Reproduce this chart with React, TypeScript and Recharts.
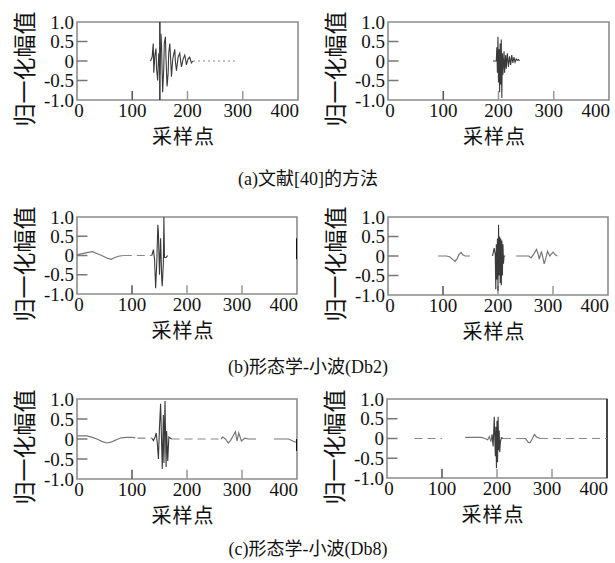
import React from "react";
import { LineChart, Line, XAxis, YAxis, ReferenceLine, ReferenceArea } from "recharts";

// sample axis and amplitude axis
const xTicks = [0, 100, 200, 300, 400];
const yTicks = [-1, -0.5, 0, 0.5, 1];
const innerXTicks = [100, 200, 300];
const innerYTicks = [0.5, 0, -0.5];

// (a) 文献[40] — left
const a1Burst = [
  [133, 0], [136, 0.1], [138, 0.45], [139, -0.3], [141, 0.15], [143, 0.32], [144, -0.2], [146, -0.5],
  [148, 0.2], [150, -0.35], [152, 0.7], [153, 0.4], [155, -0.8], [157, -0.2], [158, 0.45], [160, 0.62],
  [161, 0.1], [163, -0.65], [165, -0.3], [166, 0.2], [168, 0.45], [170, -0.1], [171, -0.4], [173, 0],
  [174, 0.1], [177, 0.3], [178, 0], [180, -0.25], [183, 0.1], [186, 0.2], [188, -0.05], [189, -0.15],
  [192, 0.05], [195, 0.15], [197, 0], [198, -0.1], [201, 0.05], [204, 0.1], [206, 0], [207, -0.05], [210, 0],
];
const a1Tail = [[210, 0], [288, 0]];
const a1Marker = [150];

// (a) — right
const a2Burst = [
  [190, 0], [196, 0], [197, 0.35], [198, -0.3], [199, 0.62], [200, -0.55], [201, 0.3], [202, -0.8],
  [203, 0.45], [204, -0.6], [205, 0.55], [206, -0.95], [207, 0.2], [208, -0.35], [210, 0.25], [211, -0.3],
  [213, 0.15], [214, -0.2], [216, 0.2], [218, -0.15], [220, 0.12], [222, -0.1], [224, 0.15], [226, -0.05],
  [228, 0.1], [230, -0.03], [232, 0.05], [234, 0.02], [236, 0.04], [238, 0],
];

// (b) 形态学-小波(Db2) — left
const b1Wave = [
  [0, 0.02], [10, 0.05], [20, 0.08], [28, 0.1], [35, 0.06], [45, 0], [55, -0.07], [62, -0.1],
  [68, -0.06], [75, -0.02], [85, 0],
];
const b1Flat = [[85, 0], [136, 0]];
const b1Burst = [
  [136, 0], [139, 0.15], [141, -0.1], [143, -0.85], [145, -0.2], [147, 0.8], [148, 0.6], [150, -0.5],
  [152, 0.45], [154, -0.6], [155, -0.8], [157, -0.2], [158, 1.0], [159, -0.05], [162, -0.05], [165, 0],
];
const b1Edge = [[400, 0.45], [400, -0.1]];

// (b) — right
const b2Left = [
  [91, 0], [106, 0], [112, -0.02], [117, -0.08], [122, -0.14], [126, -0.06], [129, 0.04], [133, 0.09],
  [136, 0.03], [140, 0],
];
const b2LeftFlat = [[140, 0], [149, 0]];
const b2Burst = [
  [190, 0], [193, 0.2], [195, 0.05], [196, -0.85], [197, 0.3], [198, -0.6], [199, 0.45], [200, -0.9],
  [201, 0.8], [202, -0.5], [203, 0.5], [204, -0.7], [205, 0.45], [206, -0.75], [207, 0.4], [208, -0.5],
  [209, 0.3], [210, -0.2], [211, 0], [213, 0],
];
const b2Right = [
  [233, 0], [256, 0], [260, -0.05], [265, 0.05], [270, 0.17], [273, 0.05], [275, -0.08], [279, 0.12],
  [284, -0.2], [287, -0.05], [290, 0.12], [294, 0], [297, 0.05], [300, 0.1], [304, 0.03], [308, 0],
];

// (c) 形态学-小波(Db8) — left
const c1Wave = [
  [0, 0.08], [10, 0.08], [18, 0.08], [28, 0.04], [36, 0], [45, -0.06], [54, -0.1], [62, -0.08],
  [68, -0.04], [75, 0], [80, 0.03], [90, 0.04], [100, 0.04], [106, 0.03],
];
const c1Flat1 = [[110, 0.02], [136, 0.02]];
const c1Burst = [
  [136, 0.02], [139, -0.04], [142, 0.05], [144, 0.15], [146, -0.1], [148, -0.5], [150, 0.3], [152, 0.88],
  [154, -0.2], [155, -0.75], [157, 0.6], [158, -0.6], [160, 0.95], [162, -0.7], [163, 0.2], [165, -0.55],
  [167, 0.05], [172, 0],
];
const c1Flat2 = [[172, 0], [262, 0]];
const c1Wave2 = [
  [262, 0], [265, 0.05], [270, 0], [275, -0.1], [279, -0.04], [284, 0.08], [288, 0.18], [291, -0.05],
  [294, 0.15], [299, -0.05], [305, 0.02], [311, 0],
];
const c1Flat3 = [[311, 0], [330, 0]];
const c1Wave3 = [[358, 0], [385, 0], [392, -0.05], [398, -0.08]];
const c1Edge = [[400, 0], [400, -0.3]];

// (c) — right
const c2Flat0 = [[50, 0], [100, 0]];
const c2Wave = [
  [142, 0.03], [160, 0.03], [172, 0.03], [178, 0], [183, -0.03], [186, 0.05], [189, -0.08], [191, 0.1],
];
const c2Burst = [
  [191, 0.1], [193, -0.2], [195, 0.55], [197, -0.45], [198, 0.3], [199, -0.75], [200, 0.45], [201, -0.6],
  [202, 0.55], [203, -0.3], [204, 0.2], [205, -0.35], [206, -0.1], [208, 0.02], [211, 0],
];
const c2Flat1 = [[211, 0], [248, 0]];
const c2Wave2 = [
  [248, 0], [252, 0], [257, -0.1], [260, -0.11], [263, -0.04], [268, 0.1], [272, 0.04], [278, 0],
];
const c2Flat2 = [[278, 0], [400, 0]];
const c2Marker = [400];

const SERIF = "'Liberation Serif', 'Noto Sans CJK SC', serif";
const CJK = "'Noto Sans CJK SC', sans-serif";
const TICK_FONT = 19;

const toPts = (arr) => arr.map(([x, y]) => ({ x, y }));

const SOLID = { stroke: "#3a3a3a", width: 1.1 };
const SOFT = { stroke: "#777", width: 1.2 };
const DASHED = { stroke: "#888", width: 1.2, dash: "8 5" };
const DOTTED = { stroke: "#888", width: 1.2, dash: "2 3" };
const EDGE = { stroke: "#111", width: 2 };

const XTick = (props) => {
  const { x, y, payload } = props;
  const v = payload.value;
  let anchor = "middle";
  let dx = 0;
  if (v === 0) dx = 2;
  if (v === 300) dx = -5;
  if (v === 400) {
    anchor = "end";
    dx = 1;
  }
  return (
    <text x={x + dx} y={y} dy="0.72em" textAnchor={anchor} fontSize={TICK_FONT} fontFamily={SERIF} fill="#111">
      {v}
    </text>
  );
};

const fmtY = (v) => (v === 1 ? "1.0" : v === -1 ? "-1.0" : String(v));

function Panel({ plot, series, markers = [] }) {
  const ML = 70;
  const MT = 16;
  const MR = 14;
  const XH = 30;
  const width = plot.w + ML + MR;
  const height = plot.h + MT + XH;
  return (
    <div style={{ position: "absolute", left: plot.left - ML, top: plot.top - MT }}>
      <LineChart width={width} height={height} margin={{ top: MT, right: MR, left: 0, bottom: 0 }}>
        <XAxis
          type="number"
          dataKey="x"
          domain={[0, 400]}
          ticks={xTicks}
          allowDataOverflow
          axisLine={false}
          tickLine={false}
          tickSize={0}
          tickMargin={3}
          height={XH}
          tick={XTick}
          interval={0}
        />
        <YAxis
          type="number"
          dataKey="y"
          domain={[-1, 1]}
          ticks={yTicks}
          allowDataOverflow
          axisLine={false}
          tickLine={false}
          tickSize={0}
          tickMargin={3}
          width={ML}
          interval={0}
          tickFormatter={fmtY}
          tick={{ fontSize: TICK_FONT, fill: "#111", fontFamily: SERIF }}
        />
        <ReferenceArea x1={0} x2={400} y1={-1} y2={1} fill="none" stroke="#8c8c8c" strokeWidth={1.6} ifOverflow="visible" />
        {innerXTicks.map((t) => (
          <ReferenceLine
            key={"xt" + t}
            segment={[{ x: t, y: -1 }, { x: t, y: -0.77 }]}
            stroke={t === 100 ? "#555" : "#999"}
            strokeWidth={1.5}
            ifOverflow="visible"
          />
        ))}
        {innerYTicks.map((t) => (
          <ReferenceLine
            key={"yt" + t}
            segment={[{ x: 0, y: t }, { x: 19, y: t }]}
            stroke="#777"
            strokeWidth={1.5}
            ifOverflow="visible"
          />
        ))}
        {markers.map((m) => (
          <ReferenceLine key={"m" + m} x={m} stroke="#222" strokeWidth={1.4} ifOverflow="visible" />
        ))}
        {series.map((s, i) => (
          <Line
            key={i}
            data={toPts(s.data)}
            dataKey="y"
            type="linear"
            stroke={s.style.stroke}
            strokeWidth={s.style.width}
            strokeDasharray={s.style.dash}
            dot={false}
            activeDot={false}
            isAnimationActive={false}
          />
        ))}
      </LineChart>
    </div>
  );
}

function Label({ x, y, text, size, rotate = false, family = CJK, spacing = 0 }) {
  return (
    <div
      style={{
        position: "absolute",
        left: x,
        top: y,
        transform: `translate(-50%, -50%)${rotate ? " rotate(-90deg)" : ""}`,
        whiteSpace: "nowrap",
        fontSize: size,
        fontFamily: family,
        color: "#111",
        letterSpacing: spacing,
        lineHeight: 1,
      }}
    >
      {text}
    </div>
  );
}

const panels = [
  {
    plot: { left: 77, top: 22, w: 221, h: 78 },
    series: [
      { data: a1Burst, style: SOLID },
      { data: a1Tail, style: DOTTED },
    ],
    markers: a1Marker,
  },
  {
    plot: { left: 388, top: 22, w: 221, h: 78 },
    series: [{ data: a2Burst, style: SOLID }],
  },
  {
    plot: { left: 77, top: 217, w: 220, h: 77 },
    series: [
      { data: b1Wave, style: SOFT },
      { data: b1Flat, style: DASHED },
      { data: b1Burst, style: SOLID },
      { data: b1Edge, style: EDGE },
    ],
  },
  {
    plot: { left: 388, top: 217, w: 220, h: 78 },
    series: [
      { data: b2Left, style: SOFT },
      { data: b2LeftFlat, style: DASHED },
      { data: b2Burst, style: SOLID },
      { data: b2Right, style: SOFT },
    ],
  },
  {
    plot: { left: 77, top: 399, w: 220, h: 80 },
    series: [
      { data: c1Wave, style: SOFT },
      { data: c1Flat1, style: DASHED },
      { data: c1Burst, style: SOLID },
      { data: c1Flat2, style: DASHED },
      { data: c1Wave2, style: SOFT },
      { data: c1Flat3, style: DASHED },
      { data: c1Wave3, style: SOFT },
      { data: c1Edge, style: EDGE },
    ],
  },
  {
    plot: { left: 387, top: 399, w: 220, h: 79 },
    series: [
      { data: c2Flat0, style: DASHED },
      { data: c2Wave, style: SOFT },
      { data: c2Burst, style: SOLID },
      { data: c2Flat1, style: DASHED },
      { data: c2Wave2, style: SOFT },
      { data: c2Flat2, style: DASHED },
    ],
    markers: c2Marker,
  },
];

const captions = [
  { text: "(a)文献[40]的方法", y: 179 },
  { text: "(b)形态学-小波(Db2)", y: 367 },
  { text: "(c)形态学-小波(Db8)", y: 549 },
];

export default function App() {
  return (
    <div style={{ position: "relative", width: 615, height: 563, background: "#fff", overflow: "hidden" }}>
      <style>{"body{margin:0}"}</style>
      {panels.map((p, i) => (
        <Panel key={i} plot={p.plot} series={p.series} markers={p.markers} />
      ))}
      {panels.map((p, i) => (
        <React.Fragment key={"t" + i}>
          <Label x={p.plot.left - 54} y={p.plot.top + p.plot.h / 2 + 8} text="归一化幅值" size={23} rotate />
          <Label x={p.plot.left + p.plot.w / 2 - 4} y={p.plot.top + p.plot.h + 36} text="采样点" size={20} spacing={1} />
        </React.Fragment>
      ))}
      {captions.map((c) => (
        <Label key={c.text} x={308} y={c.y} text={c.text} size={18} family={SERIF} />
      ))}
    </div>
  );
}
